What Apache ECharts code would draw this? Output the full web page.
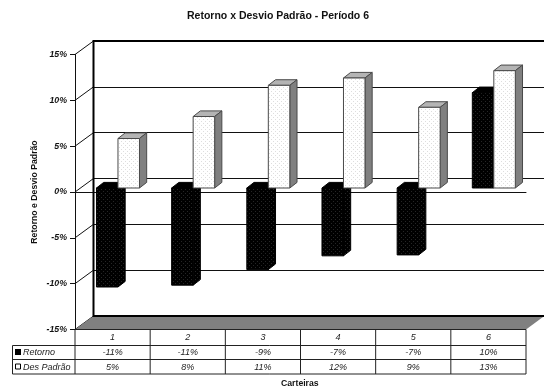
<!DOCTYPE html>
<html>
<head>
<meta charset="utf-8">
<style>html,body{margin:0;padding:0;background:#fff}#chart{width:544px;height:392px}</style>
<script src="https://cdn.jsdelivr.net/npm/echarts@6/dist/echarts.min.js"></script>
</head>
<body>
<div id="chart"></div>
<script>
// Portfolio data, in percent
const categories = ['1', '2', '3', '4', '5', '6'];
const retorno = [-10.8, -10.6, -8.9, -7.4, -7.3, 10.4];
const desvioPadrao = [5.4, 7.8, 11.2, 12.0, 8.8, 12.8];
const retornoLabels = ['-11%', '-11%', '-9%', '-7%', '-7%', '10%'];
const desvioLabels = ['5%', '8%', '11%', '12%', '9%', '13%'];
const yTicks = [-15, -10, -5, 0, 5, 10, 15];

// Perspective of the box and of the prisms inside it
const WALL_DX = 18.5, WALL_DY = 13.5;
const BAR_INSET_DX = 5.4, BAR_INSET_DY = 4;
const BAR_W = 21.5, BAR_DX = 7.2, BAR_DY = 5.6;
const FONT = '"Liberation Sans", Arial, sans-serif';
const INK = '#111';

function dotted(bg, dot) {
  const c = document.createElement('canvas');
  c.width = c.height = 4;
  const g = c.getContext('2d');
  g.fillStyle = bg; g.fillRect(0, 0, 4, 4);
  g.fillStyle = dot; g.fillRect(1, 1, 1, 1); g.fillRect(3, 3, 1, 1);
  return { image: c, repeat: 'repeat' };
}
const darkFill = dotted('#000', '#262626');
const lightFill = dotted('#fff', '#dedede');

// One prism; side = -1 is the left bar of a pair, side = 0 the right one
function prism(api, side, dark) {
  const base = api.coord([api.value(0), 0]);
  const tip = api.coord([api.value(0), api.value(1)]);
  const x0 = base[0] + BAR_INSET_DX + side * BAR_W, x1 = x0 + BAR_W;
  const y0 = base[1] - BAR_INSET_DY, y1 = tip[1] - BAR_INSET_DY;
  const top = Math.min(y0, y1), bot = Math.max(y0, y1);
  const edge = dark ? '#000' : '#4a4a4a';
  const poly = (points, fill) => ({
    type: 'polygon', shape: { points },
    style: { fill, stroke: edge, lineWidth: 1 }
  });
  return { type: 'group', children: [
    poly([[x0, top], [x1, top], [x1 + BAR_DX, top - BAR_DY], [x0 + BAR_DX, top - BAR_DY]], dark ? '#000' : '#b4b4b4'),
    poly([[x1, top], [x1 + BAR_DX, top - BAR_DY], [x1 + BAR_DX, bot - BAR_DY], [x1, bot]], dark ? darkFill : '#808080'),
    poly([[x0, top], [x1, top], [x1, bot], [x0, bot]], dark ? darkFill : lightFill)
  ] };
}

const rowY = [337.5, 352.5, 367];
const rowLines = [345.5, 359.5, 374];
const tableTop = 329.5, tableLeft = 12.5;

function cellText(x, y, text) {
  return { type: 'text', style: { x, y, text, fill: '#222', font: 'italic 9px ' + FONT, align: 'center', verticalAlign: 'middle' } };
}
function tableLine(x1, y1, x2, y2) {
  return { type: 'line', shape: { x1, y1, x2, y2 }, style: { stroke: '#222', lineWidth: 1 } };
}

const chart = echarts.init(document.getElementById('chart'), null, { renderer: 'canvas' });
chart.setOption({
  animation: false,
  backgroundColor: '#fff',
  title: {
    text: 'Retorno x Desvio Padrão - Período 6',
    left: 182, top: 6,
    textStyle: { fontFamily: FONT, fontSize: 10.5, fontWeight: 'bold', color: INK }
  },
  grid: [
    { left: 93.5, right: 0, top: 41, height: 275 },
    { left: 75, width: 451, top: 54.5, height: 275 }
  ],
  xAxis: [
    { gridIndex: 0, type: 'category', data: categories, show: false },
    {
      gridIndex: 1, type: 'category', data: categories,
      axisLine: { onZero: true, lineStyle: { color: INK, width: 1 } },
      axisTick: { show: false }, axisLabel: { show: false }, splitLine: { show: false }
    }
  ],
  yAxis: [
    {
      gridIndex: 0, type: 'value', min: -15, max: 15, interval: 5,
      axisLine: { show: false }, axisTick: { show: false }, axisLabel: { show: false },
      splitLine: { show: true, lineStyle: { color: INK, width: 1 } }
    },
    {
      gridIndex: 1, type: 'value', min: -15, max: 15, interval: 5,
      axisLine: { show: true, lineStyle: { color: INK, width: 1 } },
      axisTick: { show: true, length: 5, lineStyle: { color: INK } },
      axisLabel: {
        formatter: '{value}%', margin: 8, color: INK,
        fontFamily: FONT, fontSize: 8.8, fontWeight: 'bold', fontStyle: 'italic'
      },
      splitLine: { show: false }
    }
  ],
  graphic: [
    {
      type: 'text', x: 35, y: 192, rotation: Math.PI / 2,
      style: { text: 'Retorno e Desvio Padrão', fill: INK, font: 'bold 8.7px ' + FONT, align: 'center', verticalAlign: 'middle' }
    },
    {
      type: 'text', left: 281, top: 379,
      style: { text: 'Carteiras', fill: INK, font: 'bold 8.7px ' + FONT }
    }
  ],
  series: [
    // Side wall lines running back from each tick
    {
      type: 'custom', xAxisIndex: 1, yAxisIndex: 1, z: 1, silent: true,
      data: yTicks.map(t => [0, t]),
      renderItem(params, api) {
        const p = api.coord([0, api.value(1)]);
        const x = api.coord([0, 0])[0] - api.size([1, 0])[0] / 2;
        return { type: 'line', shape: { x1: x, y1: p[1], x2: x + WALL_DX, y2: p[1] - WALL_DY }, style: { stroke: INK, lineWidth: 1 } };
      }
    },
    // Floor and heavy wall outline
    {
      type: 'custom', xAxisIndex: 1, yAxisIndex: 1, z: 1, silent: true,
      data: [[0, -15]],
      renderItem(params, api) {
        const w = api.size([1, 0])[0];
        const x0 = api.coord([0, 0])[0] - w / 2, x1 = x0 + w * categories.length;
        const yBot = api.coord([0, -15])[1], yTop = api.coord([0, 15])[1];
        const bx = x0 + WALL_DX;
        return { type: 'group', children: [
          { type: 'polygon', shape: { points: [[x0, yBot], [bx, yBot - WALL_DY], [x1 + WALL_DX, yBot - WALL_DY], [x1, yBot]] }, style: { fill: '#808080' } },
          { type: 'polyline', shape: { points: [[x1 + WALL_DX, yTop - WALL_DY], [bx, yTop - WALL_DY], [bx, yBot - WALL_DY], [x1 + WALL_DX, yBot - WALL_DY]] }, style: { stroke: '#000', lineWidth: 2, fill: null } }
        ] };
      }
    },
    {
      type: 'custom', name: 'Retorno', xAxisIndex: 1, yAxisIndex: 1, z: 3, silent: true,
      data: retorno.map((v, i) => [i, v]),
      renderItem: (params, api) => prism(api, -1, true)
    },
    {
      type: 'custom', name: 'Des Padrão', xAxisIndex: 1, yAxisIndex: 1, z: 4, silent: true,
      data: desvioPadrao.map((v, i) => [i, v]),
      renderItem: (params, api) => prism(api, 0, false)
    },
    // Data table under the plot
    {
      type: 'custom', xAxisIndex: 1, yAxisIndex: 1, z: 5, silent: true,
      data: categories.map((c, i) => [i, 0]),
      renderItem(params, api) {
        const i = params.dataIndex;
        const w = api.size([1, 0])[0];
        const cx = api.coord([i, 0])[0];
        const right = cx + w / 2;
        return { type: 'group', children: [
          tableLine(right, tableTop, right, rowLines[2]),
          cellText(cx, rowY[0], categories[i]),
          cellText(cx, rowY[1], retornoLabels[i]),
          cellText(cx, rowY[2], desvioLabels[i])
        ] };
      }
    },
    {
      type: 'custom', xAxisIndex: 1, yAxisIndex: 1, z: 5, silent: true,
      data: [[0, 0]],
      renderItem(params, api) {
        const w = api.size([1, 0])[0];
        const x0 = api.coord([0, 0])[0] - w / 2, x1 = x0 + w * categories.length;
        const label = (y, text) => ({ type: 'text', style: { x: 23, y, text, fill: '#222', font: 'italic 9px ' + FONT, align: 'left', verticalAlign: 'middle' } });
        return { type: 'group', children: [
          tableLine(x0, tableTop, x0, rowLines[2]),
          tableLine(x0, tableTop, x1, tableTop),
          tableLine(tableLeft, rowLines[0], x1, rowLines[0]),
          tableLine(tableLeft, rowLines[1], x1, rowLines[1]),
          tableLine(tableLeft, rowLines[2], x1, rowLines[2]),
          tableLine(tableLeft, rowLines[0], tableLeft, rowLines[2]),
          { type: 'rect', shape: { x: 15, y: 349, width: 6, height: 6 }, style: { fill: '#000' } },
          { type: 'rect', shape: { x: 15.5, y: 364, width: 5, height: 5 }, style: { fill: '#fff', stroke: '#000', lineWidth: 1 } },
          label(rowY[1], 'Retorno'),
          label(rowY[2], 'Des Padrão')
        ] };
      }
    }
  ]
});
</script>
</body>
</html>
